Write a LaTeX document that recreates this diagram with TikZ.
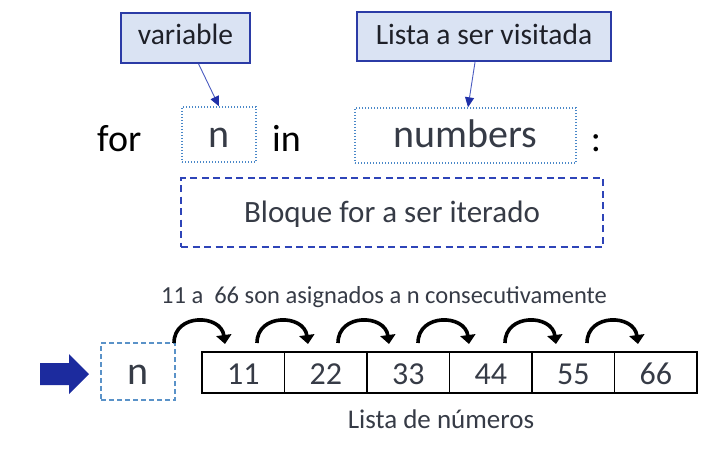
\documentclass[tikz,border=0pt]{standalone}
\usepackage{fontspec}
\setmainfont{Carlito}
\usetikzlibrary{arrows.meta,calc}
\definecolor{txt}{HTML}{363B46}
\definecolor{lbltxt}{HTML}{1E2028}
\definecolor{lblfill}{HTML}{DAE3F3}
\definecolor{lbldraw}{HTML}{2B3BA6}
\definecolor{dotblue}{HTML}{4A88C8}
\definecolor{dashblue}{HTML}{2E44B8}
\definecolor{nblue}{HTML}{5A92C8}
\definecolor{linkblue}{HTML}{4A5BC0}
\definecolor{headblue}{HTML}{1F2FA8}
\definecolor{bigblue}{HTML}{1C2B9E}
\tikzset{
  lblbox/.style={draw=lbldraw, fill=lblfill, line width=1.8pt, inner sep=0pt,
    text=lbltxt, font=\fontsize{29.5}{31}\selectfont, text depth=0pt},
  dotbox/.style={draw=dotblue, line width=1.4pt, dash pattern=on 1.4pt off 1.6pt,
    inner sep=0pt, text=txt, font=\fontsize{40}{42}\selectfont, text depth=0pt},
  blockbox/.style={draw=dashblue, line width=1.8pt, dash pattern=on 7pt off 4.5pt,
    inner sep=0pt, text=txt, font=\fontsize{31}{33}\selectfont, text depth=0pt},
  nbox/.style={draw=nblue, line width=1.6pt, dash pattern=on 5pt off 3pt,
    inner sep=0pt, text=txt, font=\fontsize{40}{42}\selectfont, text depth=0pt},
  cell/.style={draw=black, line width=1.3pt, inner sep=0pt, minimum width=82.5pt,
    minimum height=41pt, text=txt, font=\fontsize{32}{34}\selectfont,
    text height=23pt, text depth=0pt},
  kw/.style={inner sep=0pt, anchor=base west, text=black, font=\fontsize{38}{40}\selectfont},
  plain/.style={inner sep=0pt, anchor=base, text=txt},
  link/.style={draw=linkblue, line width=0.9pt,
    -{Triangle[length=10pt,width=9pt,fill=headblue,color=headblue]}},
  curv/.style={draw=black, line width=3.6pt,
    -{Triangle[length=9pt,width=15pt]}},
}
\begin{document}
\begin{tikzpicture}[x=1pt,y=-1pt]
\useasboundingbox (0,0) rectangle (708,473);

% labels
\node[lblbox, minimum width=129pt, minimum height=50pt, text height=14pt] (vlab) at (185.5,38) {variable};
\node[lblbox, minimum width=254pt, minimum height=49pt, text height=17pt] (llab) at (484,36.5) {Lista a ser visitada};

% for line
\node[kw] (for) at (97,152) {for};
\node[dotbox, minimum width=74pt, minimum height=55pt, text height=27pt] (nvar) at (219,134.5) {n};
\node[kw] (in) at (272,152) {in};
\node[dotbox, minimum width=221pt, minimum height=55pt, text height=25pt] (nums) at (465.5,135.5) {numbers};
\node[kw, anchor=base] (colon) at (596,152) {:};

\node[blockbox, minimum width=422pt, minimum height=69pt, text height=19pt] (block) at (392,212.5) {Bloque for a ser iterado};

% label arrows
\draw[link] ($(vlab.south west)!0.6!(vlab.south east)$) -- (nvar.north);
\draw[link] ($(llab.south west)!0.465!(llab.south east)$) -- ($(nums.north)+(2.5,0)$);

% bottom part
\node[plain, font=\fontsize{24.5}{26}\selectfont] (sent) at (384,303) {11 a~ 66 son asignados a n consecutivamente};

\fill[bigblue] (40,363) -- (69,363) -- (69,354) -- (89,374) -- (69,394) -- (69,385) -- (40,385) -- cycle;

\node[nbox, minimum width=74pt, minimum height=57pt, text height=25pt] (nn) at (138,371.5) {n};

\foreach \v [count=\i] in {11,22,33,44,55,66} {
  \node[cell] (c\i) at ({202+82.5*(\i-0.5)},372.5) {\v};
}

\foreach \s [count=\i] in {174,257,338,418,505,587} {
  \coordinate (a\i) at (\s,343);
  \coordinate (b\i) at (\s+51,344);
  \draw[curv] (a\i) .. controls +(0,-30) and +(-4,-30) .. (b\i);
}

\node[plain, font=\fontsize{27}{29}\selectfont] (lista) at (441,428) {Lista de números};
\end{tikzpicture}
\end{document}
